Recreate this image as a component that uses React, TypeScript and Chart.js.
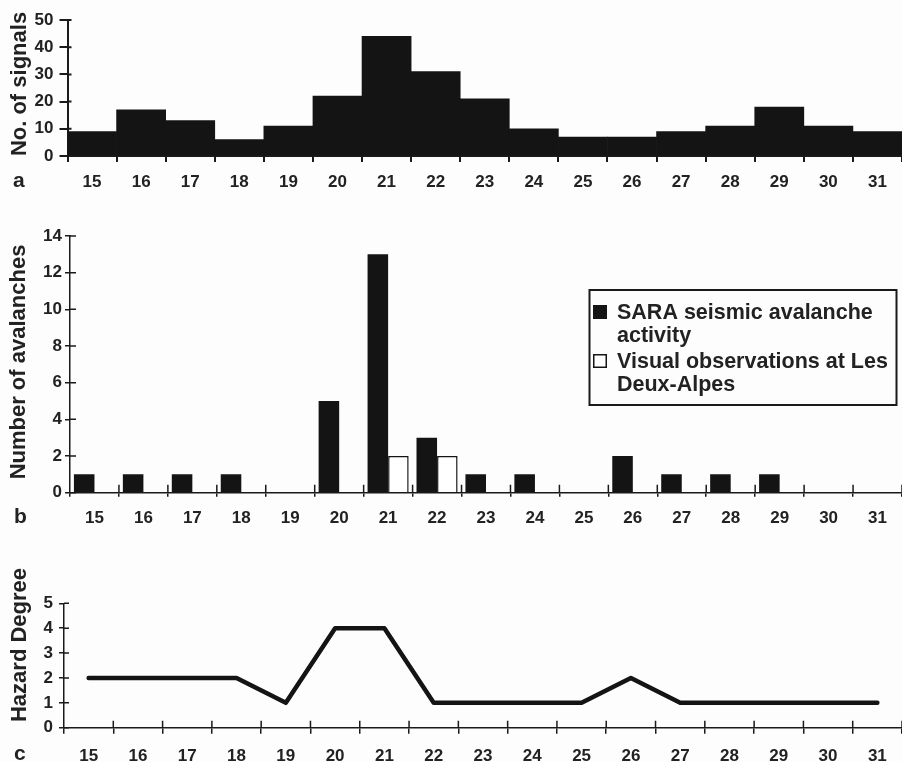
import React, { useEffect, useRef } from "react";
import { Chart, registerables } from "chart.js";

Chart.register(...registerables);

// ---------- data ----------
const days = ["15", "16", "17", "18", "19", "20", "21", "22", "23", "24", "25", "26", "27", "28", "29", "30", "31"];
const signalCounts = [9, 17, 13, 6, 11, 22, 44, 31, 21, 10, 7, 7, 9, 11, 18, 11, 9];
const saraAvalanches = [1, 1, 1, 1, 0, 5, 13, 3, 1, 1, 0, 2, 1, 1, 1, 0, 0];
const visualAvalanches = [0, 0, 0, 0, 0, 0, 2, 2, 0, 0, 0, 0, 0, 0, 0, 0, 0];
const hazardDegree = [2, 2, 2, 2, 1, 4, 4, 1, 1, 1, 1, 2, 1, 1, 1, 1, 1];

const signalAxis = { min: 0, max: 50, step: 10 };
const avalancheAxis = { min: 0, max: 14, step: 2 };
const hazardAxis = { min: 0, max: 5, step: 1 };

const titleA = "No. of signals";
const titleB = "Number of avalanches";
const titleC = "Hazard Degree";
const saraLabel = "SARA seismic avalanche activity";
const visualLabel = "Visual observations at Les Deux-Alpes";

// ---------- style ----------
const FAMILY = '"Liberation Sans", Arial, Helvetica, sans-serif';
const INK = "#141414";
const TEXT = "#222222";
const AXIS = "#1a1a1a";
const tickFont = { family: FAMILY, size: 17, weight: "bold" as const };

// y-axis title + panel letter
const panelText = {
  id: "panelText",
  afterDraw(chart: any, _args: any, o: any) {
    const ctx = chart.ctx as CanvasRenderingContext2D;
    ctx.save();
    ctx.fillStyle = TEXT;
    ctx.font = `bold 22px ${FAMILY}`;
    ctx.translate(o.titleX, o.titleY);
    ctx.rotate(-Math.PI / 2);
    ctx.textAlign = "center";
    ctx.textBaseline = "middle";
    ctx.fillText(o.title, 0, 0);
    ctx.restore();
    ctx.save();
    ctx.fillStyle = TEXT;
    ctx.font = `bold 21px ${FAMILY}`;
    ctx.textAlign = "left";
    ctx.textBaseline = "alphabetic";
    ctx.fillText(o.letter, o.letterX, o.letterY);
    ctx.restore();
  },
};

// inward part of the tick marks (ticks cross the axes)
const crossTicks = {
  id: "crossTicks",
  afterDraw(chart: any, _args: any, o: any) {
    const ctx = chart.ctx as CanvasRenderingContext2D;
    const area = chart.chartArea;
    const xs = chart.scales.x;
    const ys = chart.scales.y;
    ctx.save();
    ctx.strokeStyle = AXIS;
    ctx.lineWidth = o.width;
    ctx.beginPath();
    if (o.yIn > 0) {
      ys.ticks.forEach((_t: any, i: number) => {
        const py = ys.getPixelForTick(i);
        ctx.moveTo(area.left, py);
        ctx.lineTo(area.left + o.yIn, py);
      });
    }
    if (o.xIn > 0) {
      const n = xs.ticks.length;
      const w = (xs.right - xs.left) / n;
      for (let i = 1; i <= n; i++) {
        const px = xs.left + i * w;
        ctx.moveTo(px, area.bottom);
        ctx.lineTo(px, area.bottom - o.xIn);
      }
    }
    ctx.stroke();
    ctx.restore();
  },
};

function wrapText(ctx: CanvasRenderingContext2D, text: string, maxW: number): string[] {
  const words = text.split(" ");
  const lines: string[] = [];
  let cur = "";
  words.forEach((w) => {
    const test = cur ? cur + " " + w : w;
    if (ctx.measureText(test).width > maxW && cur) {
      lines.push(cur);
      cur = w;
    } else cur = test;
  });
  if (cur) lines.push(cur);
  return lines;
}

const boxLegend = {
  id: "boxLegend",
  afterDraw(chart: any, _args: any, o: any) {
    const ctx = chart.ctx as CanvasRenderingContext2D;
    ctx.save();
    ctx.strokeStyle = AXIS;
    ctx.lineWidth = 2;
    ctx.strokeRect(o.left, o.top, o.width, o.height);
    ctx.font = `bold ${o.fontSize}px ${FAMILY}`;
    ctx.textBaseline = "alphabetic";
    ctx.textAlign = "left";
    let base = o.top + o.firstBaseline;
    chart.data.datasets.forEach((ds: any) => {
      const lines = wrapText(ctx, ds.label, o.maxWidth);
      const s = o.swatch;
      ctx.fillStyle = ds.backgroundColor;
      ctx.fillRect(o.left + o.swatchX, base - s, s, s);
      ctx.strokeStyle = INK;
      ctx.lineWidth = 1.5;
      ctx.strokeRect(o.left + o.swatchX + 0.75, base - s + 0.75, s - 1.5, s - 1.5);
      ctx.fillStyle = TEXT;
      lines.forEach((ln, i) => ctx.fillText(ln, o.left + o.textX, base + i * o.lineHeight));
      base += lines.length * o.lineHeight + o.gap;
    });
    ctx.restore();
  },
};

function xScale(height: number, pad: number, lw: number, tickLen: number) {
  return {
    type: "category" as const,
    offset: true,
    grid: { offset: true, drawOnChartArea: false, drawTicks: true, tickLength: tickLen, color: AXIS, lineWidth: lw },
    border: { display: true, color: AXIS, width: lw },
    ticks: { font: tickFont, color: TEXT, padding: pad, maxRotation: 0, autoSkip: false },
    afterFit: (s: any) => {
      s.height = height;
    },
  };
}

function yScale(ax: { min: number; max: number; step: number }, width: number, pad: number, lw: number, tickLen: number) {
  return {
    min: ax.min,
    max: ax.max,
    grid: { drawOnChartArea: false, drawTicks: true, tickLength: tickLen, color: AXIS, lineWidth: lw },
    border: { display: true, color: AXIS, width: lw },
    ticks: { stepSize: ax.step, font: tickFont, color: TEXT, padding: pad },
    afterFit: (s: any) => {
      s.width = width;
    },
  };
}

export default function App() {
  const refA = useRef<HTMLCanvasElement>(null);
  const refB = useRef<HTMLCanvasElement>(null);
  const refC = useRef<HTMLCanvasElement>(null);

  useEffect(() => {
    const chartA = new Chart(refA.current!, {
      type: "bar",
      data: {
        labels: days,
        datasets: [
          {
            label: titleA,
            data: signalCounts,
            backgroundColor: INK,
            borderWidth: 0,
            categoryPercentage: 1,
            barPercentage: 1,
          },
        ],
      },
      options: {
        responsive: false,
        animation: false,
        layout: { padding: { top: 20, right: 0, bottom: 0, left: 0 } },
        plugins: {
          legend: { display: false },
          tooltip: { enabled: false },
          panelText: { title: titleA, titleX: 20, titleY: 84, letter: "a", letterX: 13, letterY: 187 },
          crossTicks: { width: 2, yIn: 4, xIn: 0 },
        } as any,
        scales: {
          x: xScale(44, 10, 2, 6),
          y: yScale(signalAxis, 67.5, 6, 2, 8),
        } as any,
      },
      plugins: [panelText, crossTicks],
    });

    const chartB = new Chart(refB.current!, {
      type: "bar",
      data: {
        labels: days,
        datasets: [
          {
            label: saraLabel,
            data: saraAvalanches,
            backgroundColor: INK,
            borderWidth: 0,
            categoryPercentage: 0.84,
            barPercentage: 1,
          },
          {
            label: visualLabel,
            data: visualAvalanches,
            backgroundColor: "#ffffff",
            borderColor: INK,
            borderWidth: 1.5,
            categoryPercentage: 0.84,
            barPercentage: 1,
          },
        ],
      },
      options: {
        responsive: false,
        animation: false,
        layout: { padding: { top: 36, right: 0, bottom: 0, left: 0 } },
        plugins: {
          legend: { display: false },
          tooltip: { enabled: false },
          panelText: { title: titleB, titleX: 19, titleY: 162, letter: "b", letterX: 14, letterY: 323 },
          crossTicks: { width: 1.5, yIn: 6, xIn: 8 },
          boxLegend: {
            left: 589.5,
            top: 90,
            width: 307,
            height: 115,
            fontSize: 21.5,
            firstBaseline: 29,
            lineHeight: 22.5,
            gap: 4,
            swatch: 14,
            swatchX: 3.5,
            textX: 27.5,
            maxWidth: 278,
          },
        } as any,
        scales: {
          x: xScale(47.3, 11, 1.5, 4),
          y: yScale(avalancheAxis, 70, 3, 1.5, 5),
        } as any,
      },
      plugins: [panelText, crossTicks, boxLegend],
    });

    const chartC = new Chart(refC.current!, {
      type: "line",
      data: {
        labels: days,
        datasets: [
          {
            label: titleC,
            data: hazardDegree,
            borderColor: INK,
            borderWidth: 4.5,
            pointRadius: 0,
            tension: 0,
            borderCapStyle: "round",
            borderJoinStyle: "round",
            fill: false,
          },
        ],
      },
      options: {
        responsive: false,
        animation: false,
        layout: { padding: { top: 63.3, right: 0, bottom: 0, left: 0 } },
        plugins: {
          legend: { display: false },
          tooltip: { enabled: false },
          panelText: { title: titleC, titleX: 20, titleY: 105, letter: "c", letterX: 14, letterY: 220 },
          crossTicks: { width: 1.5, yIn: 5, xIn: 7 },
        } as any,
        scales: {
          x: xScale(34.3, 12, 1.5, 6),
          y: yScale(hazardAxis, 64, 6, 1.5, 5),
        } as any,
      },
      plugins: [panelText, crossTicks],
    });

    return () => {
      chartA.destroy();
      chartB.destroy();
      chartC.destroy();
    };
  }, []);

  const box = (top: number, height: number): React.CSSProperties => ({
    position: "absolute",
    left: 0,
    top,
    width: 902,
    height,
  });

  return (
    <div
      style={{
        position: "fixed",
        left: 0,
        top: 0,
        width: 902,
        height: 762,
        background: "#fdfdfd",
        overflow: "hidden",
      }}
    >
      <div style={box(0, 200)}>
        <canvas ref={refA} width={902} height={200} style={{ width: 902, height: 200 }} />
      </div>
      <div style={box(200, 340)}>
        <canvas ref={refB} width={902} height={340} style={{ width: 902, height: 340 }} />
      </div>
      <div style={box(540, 222)}>
        <canvas ref={refC} width={902} height={222} style={{ width: 902, height: 222 }} />
      </div>
    </div>
  );
}
